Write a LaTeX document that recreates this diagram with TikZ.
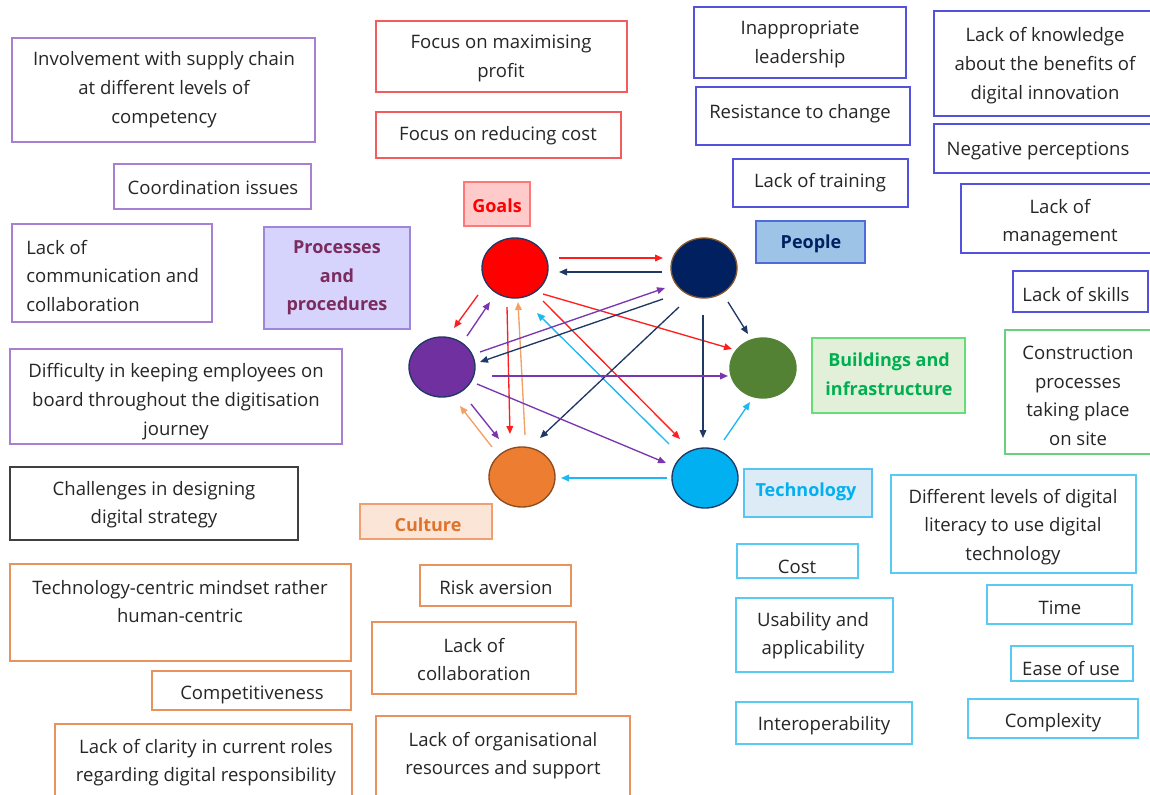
\documentclass[tikz,border=0pt]{standalone}
\usepackage{fontspec}
\setmainfont{Open Sans}
\usetikzlibrary{shapes.geometric,arrows.meta,calc,fit}
\definecolor{cPur}{HTML}{A880D2}
\definecolor{cRed}{HTML}{F25C5C}
\definecolor{cBlu}{HTML}{5252DE}
\definecolor{cOra}{HTML}{E8925E}
\definecolor{cCya}{HTML}{58CBF3}
\definecolor{cGrn}{HTML}{6CCF7E}
\definecolor{cBlk}{HTML}{404040}
\definecolor{tGray}{HTML}{262626}
% circles
\definecolor{kRed}{HTML}{FF0000}
\definecolor{kNavy}{HTML}{002060}
\definecolor{kPur}{HTML}{7030A0}
\definecolor{kGrn}{HTML}{548235}
\definecolor{kOra}{HTML}{ED7D31}
\definecolor{kCya}{HTML}{00B0F0}
% arrows
\definecolor{aRed}{HTML}{FF1E1E}
\definecolor{aNavy}{HTML}{203864}
\definecolor{aPur}{HTML}{7A35B0}
\definecolor{aOra}{HTML}{F2A064}
\definecolor{aCya}{HTML}{1EB8F2}
% labels
\definecolor{gFill}{HTML}{FFCACA}
\definecolor{gDraw}{HTML}{FF7878}
\definecolor{prFill}{HTML}{D6D3FC}
\definecolor{prDraw}{HTML}{9E86DB}
\definecolor{prText}{HTML}{7B2C5E}
\definecolor{peFill}{HTML}{9DC3E6}
\definecolor{peDraw}{HTML}{4F6BD9}
\definecolor{bFill}{HTML}{E2F0D9}
\definecolor{bDraw}{HTML}{66DD77}
\definecolor{bText}{HTML}{00B050}
\definecolor{tFill}{HTML}{DDEBF7}
\definecolor{tDraw}{HTML}{58C5F0}
\definecolor{cFill}{HTML}{FBE5D6}
\definecolor{cDraw}{HTML}{F0A070}
\definecolor{cText}{HTML}{E0732A}
\tikzset{
  x=0.75pt, y=-0.75pt,
  boxst/.style={inner sep=0pt, line width=1pt, rectangle},
  txtst/.style={inner sep=0pt, text=tGray, yshift=-2pt, font=\fontsize{13.9}{21.4}\selectfont},
  labtxt/.style={inner sep=0pt, yshift=-1.5pt, font=\bfseries\fontsize{13.5}{21.4}\selectfont},
  circ/.style={ellipse, inner sep=0pt, minimum width=49.5pt, minimum height=45pt, line width=1pt},
  ar/.style={draw=#1, line width=1pt, -{Triangle[length=6pt,width=5pt]}}
}
\newcommand\tbx[7][align=center]{%
  \node[boxst, draw=#3, fit={(#4) (#5)}] (#2) {};
  \node[txtst, #1] (#2t) at (#6) {#7};
}
\newcommand\lbx[8]{%
  \node[boxst, draw=#3, fill=#4, fit={(#5) (#6)}] (#2) {};
  \node[labtxt, align=center, text=#1] (#2t) at (#7) {#8};
}
\begin{document}
\begin{tikzpicture}
\useasboundingbox[fill=white] (0,0) rectangle (1150,795);
% purple text boxes
\tbx{pa}{cPur}{12,38}{315,142}{164,87}{Involvement with supply chain\\at different levels of\\competency}
\tbx{pb}{cPur}{114,164}{311,209}{213,185}{Coordination issues}
\tbx[align=left,anchor=west]{pc}{cPur}{12,224}{212,322}{26,273}{Lack of\\communication and\\collaboration}
\tbx{pd}{cPur}{10,349}{342,444}{176,399}{Difficulty in keeping employees on\\board throughout the digitisation\\journey}
% black
\tbx{ka}{cBlk}{10,467}{298,540}{154,502}{Challenges in designing\\digital strategy}
% red
\tbx{ra}{cRed}{376,21}{627,92}{501,56}{Focus on maximising\\profit}
\tbx{rb}{cRed}{376,112}{621,158}{498,133}{Focus on reducing cost}
% orange
\tbx{oa}{cOra}{10,564}{351,661}{180,599}{Technology-centric mindset rather\\human-centric}
\tbx{ob}{cOra}{152,671}{351,710}{252,692}{Competitiveness}
\tbx{oc}{cOra}{55,724}{352,800}{206,760}{Lack of clarity in current roles\\regarding digital responsibility}
\tbx{od}{cOra}{420,565}{571,606}{496,585}{Risk aversion}
\tbx{oe}{cOra}{372,622}{576,694}{474,657}{Lack of\\collaboration}
\tbx{of}{cOra}{376,716}{630,800}{503,753}{Lack of organisational\\resources and support}
% blue
\tbx{ba}{cBlu}{694,7}{906,78}{800,42}{Inappropriate\\leadership}
\tbx{bb}{cBlu}{696,87}{910,145}{800,111}{Resistance to change}
\tbx{bc}{cBlu}{733,159}{908,207}{820,180}{Lack of training}
\tbx{bd}{cBlu}{934,11}{1155,116}{1045,63}{Lack of knowledge\\about the benefits of\\digital innovation}
\tbx{be}{cBlu}{934,124}{1155,173}{1038,148}{Negative perceptions}
\tbx{bf}{cBlu}{961,184}{1155,253}{1060,220}{Lack of\\management}
\tbx{bg}{cBlu}{1013,271}{1148,312}{1076,292}{Lack of skills}
% green
\tbx{ga}{cGrn}{1005,330}{1155,454}{1078,393}{Construction\\processes\\taking place\\on site}
% cyan
\tbx{ca}{cCya}{891,475}{1136,573}{1013,524}{Different levels of digital\\literacy to use digital\\technology}
\tbx{cb}{cCya}{737,544}{858,578}{797,564}{Cost}
\tbx{cc}{cCya}{736,598}{893,672}{813,633}{Usability and\\applicability}
\tbx{cd}{cCya}{736,702}{912,744}{824,723}{Interoperability}
\tbx{ce}{cCya}{987,585}{1132,624}{1060,605}{Time}
\tbx{cf}{cCya}{1011,646}{1133,681}{1071,666}{Ease of use}
\tbx{cg}{cCya}{968,699}{1138,738}{1053,720}{Complexity}
% category labels
\lbx{kRed}{lG}{gDraw}{gFill}{464,182}{530,226}{497,204}{Goals}
\lbx{prText}{lPr}{prDraw}{prFill}{264,227}{410,329}{337,276}{Processes\\and\\procedures}
\lbx{kNavy}{lP}{peDraw}{peFill}{756,221}{865,263}{811,242}{People}
\lbx{bText}{lB}{bDraw}{bFill}{812,338}{965,413}{889,372}{Buildings and\\infrastructure}
\lbx{kCya}{lT}{tDraw}{tFill}{744,469}{872,517}{806,490}{Technology}
\lbx{cText}{lC}{cDraw}{cFill}{360,504}{492,539}{428,523}{Culture}
% circles
\node[circ, fill=kRed, draw=aNavy] (G) at (515,268) {};
\node[circ, fill=kNavy, draw=brown!70!black] (P) at (704,268) {};
\node[circ, fill=kPur, draw=aNavy] (Pr) at (442,367) {};
\node[circ, fill=kGrn, draw=kGrn] (B) at (763,368) {};
\node[circ, fill=kOra, draw=kOra!60!black] (C) at (522,477) {};
\node[circ, fill=kCya, draw=aNavy] (T) at (705,478) {};
% arrows
\draw[ar=aRed] ($(G)+(44,-10)$) -- ($(P)+(-41,-10)$);
\draw[ar=aNavy] ($(P)+(-42,4)$) -- ($(G)+(44,4)$);
\draw[ar=aRed] ($(G)+(-37,27)$) -- ($(Pr)+(12,-39)$);
\draw[ar=aPur] ($(Pr)+(25,-31)$) -- ($(G)+(-25,34)$);
\draw[ar=aRed] ($(G)+(-8,39)$) -- ($(C)+(-12,-43)$);
\draw[ar=aOra] ($(C)+(3,-42)$) -- ($(G)+(3,34)$);
\draw[ar=aRed] ($(G)+(28,26)$) -- ($(B)+(-31,-19)$);
\draw[ar=aRed] ($(G)+(28,33)$) -- ($(T)+(-25,-39)$);
\draw[ar=aCya] ($(T)+(-36,-34)$) -- ($(G)+(22,45)$);
\draw[ar=aPur] ($(Pr)+(38,-15)$) -- ($(P)+(-39,20)$);
\draw[ar=aNavy] ($(P)+(-41,31)$) -- ($(Pr)+(38,-5)$);
\draw[ar=aNavy] ($(P)+(24,34)$) -- ($(B)+(-15,-34)$);
\draw[ar=aNavy] ($(P)+(-25,39)$) -- ($(C)+(18,-39)$);
\draw[ar=aNavy] ($(P)+(-1,47)$) -- ($(T)+(-2,-40)$);
\draw[ar=aPur] ($(Pr)+(50,9)$) -- ($(B)+(-35,8)$);
\draw[ar=aPur] ($(Pr)+(35,17)$) -- ($(T)+(-39,-15)$);
\draw[ar=aPur] ($(Pr)+(29,37)$) -- ($(C)+(-23,-38)$);
\draw[ar=aOra] ($(C)+(-30,-30)$) -- ($(Pr)+(18,39)$);
\draw[ar=aCya] ($(T)+(-38,0)$) -- ($(C)+(39,1)$);
\draw[ar=aCya] ($(T)+(19,-38)$) -- ($(B)+(-13,34)$);
\end{tikzpicture}
\end{document}
